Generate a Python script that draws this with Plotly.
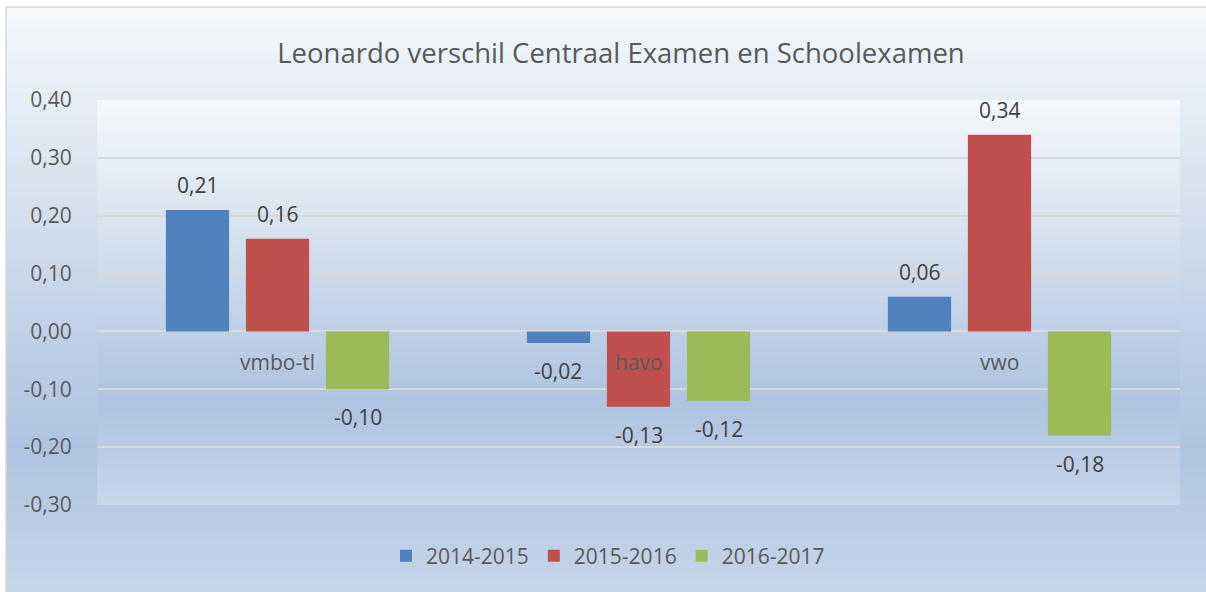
import plotly.graph_objects as go

# ---- data ----
categories = ["vmbo-tl", "havo", "vwo"]
series_names = ["2014-2015", "2015-2016", "2016-2017"]
vals_2014_2015 = [0.21, -0.02, 0.06]
vals_2015_2016 = [0.16, -0.13, 0.34]
vals_2016_2017 = [-0.10, -0.12, -0.18]
y_ticks = [0.40, 0.30, 0.20, 0.10, 0.00, -0.10, -0.20, -0.30]
title_text = "Leonardo verschil Centraal Examen en Schoolexamen"

series_values = [vals_2014_2015, vals_2015_2016, vals_2016_2017]
colors = ["#4F81BD", "#C0504D", "#9BBB59"]

W, H = 1206, 592
L, R, T, B = 97, 1180, 100, 505
FONT = "Open Sans"


def px_x(x):
    return (x - L) / (R - L)


def px_y(y):
    return (B - y) / (B - T)


def fmt(v):
    s = f"{abs(v):.2f}".replace(".", ",")
    return ("-" if v < 0 else "") + s


stops = [(0.0, (245, 248, 251)), (0.75, (173, 195, 223)), (1.0, (198, 214, 233))]


def grad(t):
    for (t0, c0), (t1, c1) in zip(stops[:-1], stops[1:]):
        if t <= t1:
            f = (t - t0) / (t1 - t0)
            c = [round(a + (b - a) * f) for a, b in zip(c0, c1)]
            return f"rgb({c[0]},{c[1]},{c[2]})"
    c = stops[-1][1]
    return f"rgb({c[0]},{c[1]},{c[2]})"


shapes = []


def stripes(x0, x1, y0, y1, n=90):
    h = (y1 - y0) / n
    for i in range(n):
        ya = y0 + i * h
        yb = ya + h + 0.8
        shapes.append(dict(type="rect", xref="paper", yref="paper", layer="below",
                           x0=px_x(x0), x1=px_x(x1), y0=px_y(ya), y1=px_y(min(yb, y1)),
                           fillcolor=grad((i + 0.5) / n), line=dict(width=0)))


stripes(6, W, 7, H)
stripes(L, R, T, B)
# chart-area border (top and left edges visible in the reference)
shapes.append(dict(type="line", xref="paper", yref="paper", layer="below",
                   x0=px_x(6), x1=px_x(W), y0=px_y(7), y1=px_y(7),
                   line=dict(color="#D9D9D9", width=1.5)))
shapes.append(dict(type="line", xref="paper", yref="paper", layer="below",
                   x0=px_x(6), x1=px_x(6), y0=px_y(7), y1=px_y(H),
                   line=dict(color="#D9D9D9", width=1.5)))

fig = go.Figure()
for name, vals, col in zip(series_names, series_values, colors):
    fig.add_trace(go.Bar(x=categories, y=vals, name=name, marker=dict(color=col, line=dict(width=0))))

annotations = []
n_series = len(series_values)
slot = (R - L) / len(categories) * (1 - 0.335) / n_series
for i, vals in enumerate(series_values):
    for cat, v in zip(categories, vals):
        annotations.append(dict(x=cat, y=v, xref="x", yref="y", text=fmt(v), showarrow=False,
                                xshift=(i - (n_series - 1) / 2) * slot,
                                yshift=25 if v >= 0 else -28,
                                font=dict(family=FONT, size=21, color="#404040")))
for cat in categories:
    annotations.append(dict(x=cat, y=0, xref="x", yref="y", text=cat, showarrow=False,
                            yshift=-31, font=dict(family=FONT, size=21, color="#595959")))

fig.update_layout(
    width=W, height=H,
    margin=dict(l=L, r=W - R, t=T, b=H - B, pad=0),
    paper_bgcolor="white",
    plot_bgcolor="rgba(0,0,0,0)",
    separators=",.",
    barmode="group",
    bargap=0.335,
    bargroupgap=0.21,
    font=dict(family=FONT, color="#595959", size=21),
    title=dict(text=title_text, xref="container", yref="container",
               x=621 / W, y=1 - 53 / H, xanchor="center", yanchor="middle",
               font=dict(family=FONT, size=27.5, color="#595959")),
    xaxis=dict(showticklabels=False, showgrid=False, showline=False, zeroline=False, ticks=""),
    yaxis=dict(range=[-0.30, 0.40], tickvals=y_ticks, ticktext=[fmt(v) for v in y_ticks],
               showgrid=True, gridcolor="#D9D9D9", gridwidth=1.5,
               zeroline=True, zerolinecolor="#D9D9D9", zerolinewidth=1.5,
               showline=False, ticks="outside", ticklen=20, tickcolor="rgba(0,0,0,0)",
               tickfont=dict(family=FONT, size=21, color="#595959")),
    showlegend=True,
    legend=dict(orientation="h", x=px_x(608), y=px_y(556), xanchor="center", yanchor="middle",
                bgcolor="rgba(0,0,0,0)", font=dict(family=FONT, size=21, color="#595959"),
                itemwidth=30, traceorder="normal"),
    shapes=shapes,
    annotations=annotations,
)

fig.write_html(
    "out.html",
    config={"displayModeBar": False},
    post_script=(
        "document.documentElement.style.margin='0';"
        "document.documentElement.style.overflow='hidden';"
        "document.body.style.margin='0';document.body.style.overflow='hidden';"
    ),
)
